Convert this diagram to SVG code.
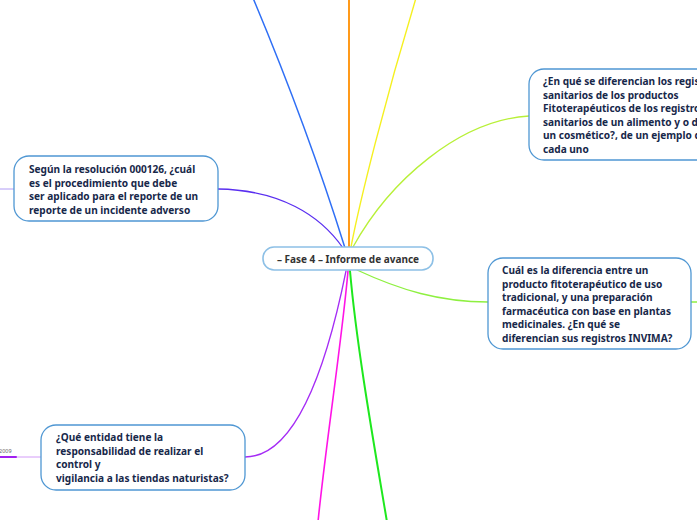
<svg xmlns="http://www.w3.org/2000/svg" width="697" height="520" viewBox="0 0 697 520">
<style>
.c{fill:none;stroke-linecap:round}
.n{fill:#ffffff;stroke:#4f97d3;stroke-width:1.3}
.m{fill:#ffffff;stroke:#8dc0e6;stroke-width:1.6}
.t{font-family:"Noto Sans","Open Sans","DejaVu Sans",sans-serif;font-weight:bold;font-size:10.1px;fill:#17284a}
.ct{font-family:"Noto Sans","Open Sans","DejaVu Sans",sans-serif;font-weight:bold;font-size:10px;fill:#333333}
</style>
<rect width="697" height="520" fill="#ffffff"/>
<g id="connectors">
<path class="c" d="M345,248 C330,200 300,110 253,-2" stroke="#2f6ff5" stroke-width="1.5"/>
<path class="c" d="M349,247 L349,-2" stroke="#ff9a1a" stroke-width="2"/>
<path class="c" d="M351,247 C360,200 385,100 416,-2" stroke="#f5f020" stroke-width="1.4"/>
<path class="c" d="M353,247 C390,180 460,120 529,116" stroke="#b8f038" stroke-width="1.3"/>
<path class="c" d="M343,248 C320,215 280,190 218,189" stroke="#5a2ff0" stroke-width="1.3"/>
<path class="c" d="M0,189 L14,189" stroke="#b09cf5" stroke-width="1"/>
<path class="c" d="M357,270 C400,290 440,302 488,302" stroke="#8ef040" stroke-width="1.3"/>
<path class="c" d="M691,302 L697,302" stroke="#8ef040" stroke-width="1.3"/>
<path class="c" d="M346,271 C330,350 300,457 245,457" stroke="#a52cf5" stroke-width="1.3"/>
<path class="c" d="M16,457 L41,457" stroke="#d39cf8" stroke-width="1"/>
<path class="c" d="M-1,457 L16,457" stroke="#a020f0" stroke-width="2"/>
<path class="c" d="M348,271 C342,340 325,450 318,522" stroke="#ff14e6" stroke-width="1.6"/>
<path class="c" d="M350,271 C357,350 375,450 387,522" stroke="#1ee81e" stroke-width="2"/>
</g>
<g id="center">
<rect class="m" x="263" y="247" width="170" height="23" rx="11"/>
<text class="ct" x="348" y="262.5" text-anchor="middle">– Fase 4 – Informe de avance</text>
</g>
<g id="node-resolucion">
<rect class="n" x="14" y="156" width="204" height="65" rx="15"/>
<text class="t"><tspan x="29" y="173">Según la resolución 000126, ¿cuál</tspan><tspan x="29" y="186.5">es el procedimiento que debe</tspan><tspan x="29" y="200">ser aplicado para el reporte de un</tspan><tspan x="29" y="213.5">reporte de un incidente adverso</tspan></text>
</g>
<g id="node-registros">
<rect class="n" x="529" y="69" width="200" height="91" rx="15"/>
<text class="t"><tspan x="543" y="85">¿En qué se diferencian los registros</tspan><tspan x="543" y="98.5">sanitarios de los productos</tspan><tspan x="543" y="112">Fitoterapéuticos de los registros</tspan><tspan x="543" y="125.5">sanitarios de un alimento y o de</tspan><tspan x="543" y="139">un cosmético?, de un ejemplo de</tspan><tspan x="543" y="152.5">cada uno</tspan></text>
</g>
<g id="node-diferencia">
<rect class="n" x="488" y="258" width="203" height="91" rx="15"/>
<text class="t"><tspan x="502" y="274">Cuál es la diferencia entre un</tspan><tspan x="502" y="287.5">producto fitoterapéutico de uso</tspan><tspan x="502" y="301">tradicional, y una preparación</tspan><tspan x="502" y="314.5">farmacéutica con base en plantas</tspan><tspan x="502" y="328">medicinales. ¿En qué se</tspan><tspan x="502" y="341.5">diferencian sus registros INVIMA?</tspan></text>
</g>
<g id="node-entidad">
<rect class="n" x="41" y="425" width="204" height="65" rx="15"/>
<text class="t"><tspan x="56" y="441">¿Qué entidad tiene la</tspan><tspan x="56" y="454.5">responsabilidad de realizar el</tspan><tspan x="56" y="468">control y</tspan><tspan x="56" y="481.5">vigilancia a las tiendas naturistas?</tspan></text>
</g>
<g id="label-2009">
<text x="-1" y="453" font-family="'Noto Sans','DejaVu Sans',sans-serif" font-size="5.5" fill="#666666">2009</text>
</g>
</svg>
